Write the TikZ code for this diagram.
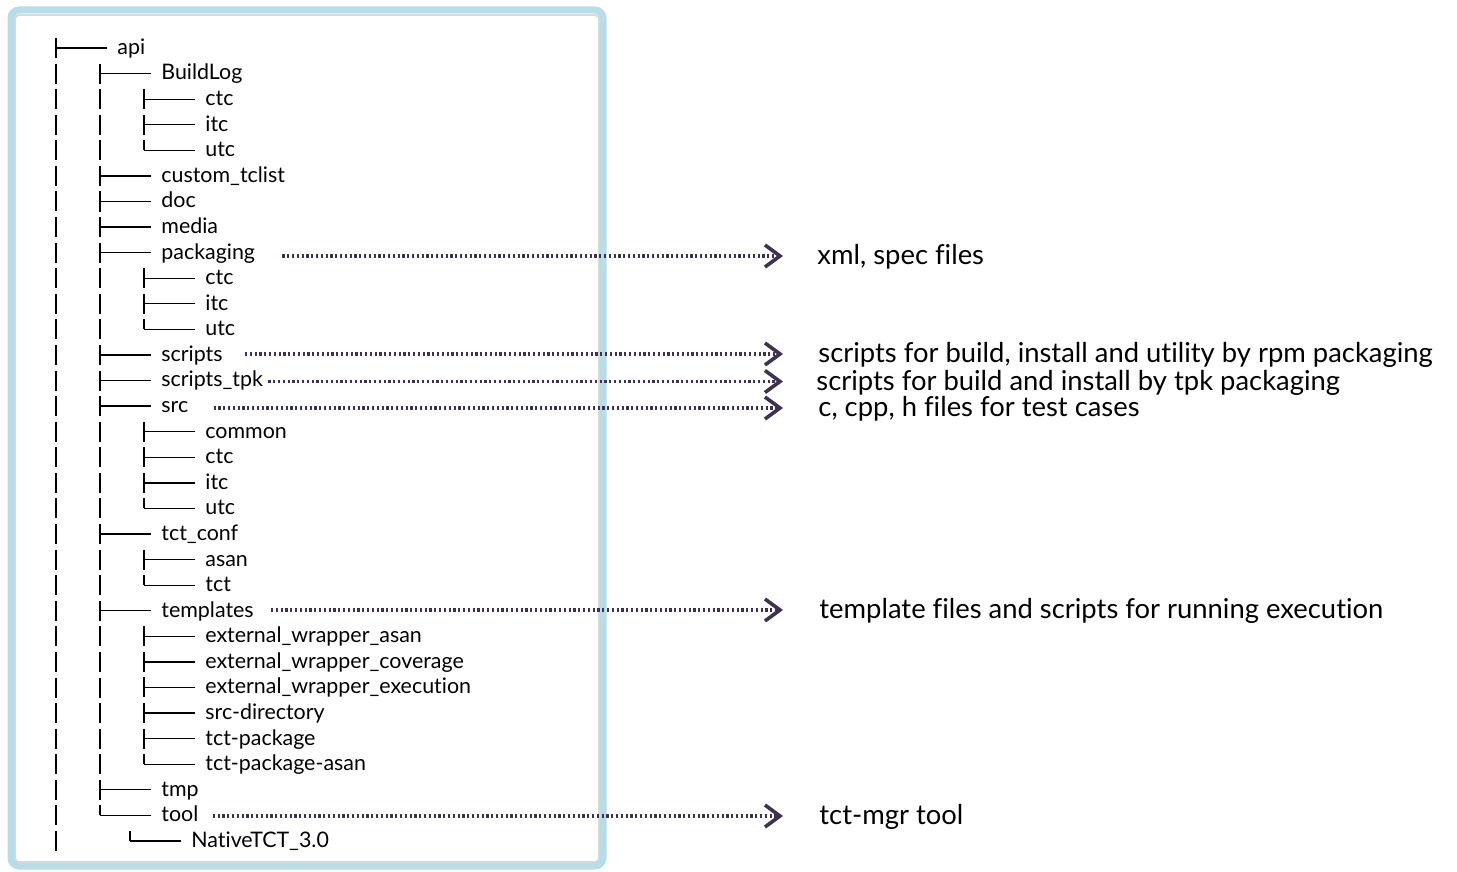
\documentclass[tikz,border=0pt]{standalone}
\usepackage{fontspec}
\setmainfont{Lato}[Ligatures=NoCommon]
\usetikzlibrary{arrows.meta}
\definecolor{frameColor}{HTML}{B7DDE8}
\definecolor{noteColor}{HTML}{3F3151}
\tikzset{
	dir/.style={anchor=west, inner sep=0pt, text height=6.4pt, text depth=0pt,
		font=\fontsize{10.7}{13}\selectfont},
	note/.style={anchor=west, inner sep=0pt, text height=8.6pt, text depth=0pt,
		font=\fontsize{13.7}{16}\selectfont},
	stem/.style={line width=0.65pt, dash pattern=on 10pt off 2.79pt},
	branch/.style={line width=0.65pt, shorten >=5pt},
	pointer/.style={noteColor, line width=1.6pt, dash pattern=on 1.1pt off 1.3pt,
		-{Straight Barb[length=7.5pt,width=11pt,line width=1.8pt]}}
}

\begin{document}
\begin{tikzpicture}[x=0.5pt,y=-0.5pt]
	\useasboundingbox (0,0) rectangle (1457,872);
	% frame
	\draw[black!15, line width=1pt, rounded corners=2pt] (15,15) rectangle (599,862);
	\draw[frameColor, line width=3.5pt, rounded corners=4pt] (11,10) rectangle (603,866);
	% directory tree
	\node[dir] (api) at (117,48) {api};
	\node[dir] (bl) at (161,73.6) {BuildLog};
	\node[dir] (blc) at (205,99.2) {ctc};
	\node[dir] (bli) at (205,124.7) {itc};
	\node[dir] (blu) at (205,150.3) {utc};
	\node[dir] (ctl) at (161,175.9) {custom\_tclist};
	\node[dir] (doc) at (161,201.5) {doc};
	\node[dir] (med) at (161,227.1) {media};
	\node[dir] (pkg) at (161,252.6) {packaging};
	\node[dir] (pkc) at (205,278.2) {ctc};
	\node[dir] (pki) at (205,303.8) {itc};
	\node[dir] (pku) at (205,329.4) {utc};
	\node[dir] (scr) at (161,355.0) {scripts};
	\node[dir] (stp) at (161,380.5) {scripts\_tpk};
	\node[dir] (src) at (161,406.1) {src};
	\node[dir] (scm) at (205,431.7) {common};
	\node[dir] (scc) at (205,457.3) {ctc};
	\node[dir] (sci) at (205,482.9) {itc};
	\node[dir] (scu) at (205,508.4) {utc};
	\node[dir] (cnf) at (161,534.0) {tct\_conf};
	\node[dir] (cfa) at (205,559.6) {asan};
	\node[dir] (cft) at (205,585.2) {tct};
	\node[dir] (tpl) at (161,610.8) {templates};
	\node[dir] (tw1) at (205,636.3) {external\_wrapper\_asan};
	\node[dir] (tw2) at (205,661.9) {external\_wrapper\_coverage};
	\node[dir] (tw3) at (205,687.5) {external\_wrapper\_execution};
	\node[dir] (tw4) at (205,713.1) {src-directory};
	\node[dir] (tw5) at (205,738.7) {tct-package};
	\node[dir] (tw6) at (205,764.2) {tct-package-asan};
	\node[dir] (tmp) at (161,789.8) {tmp};
	\node[dir] (tool) at (161,815.4) {tool};
	\node[dir] (ntc) at (191,841.0) {NativeTCT\_3.0};
	% tree columns
	\coordinate (c0) at (56,0);
	\coordinate (c1) at (100,0);
	\coordinate (c2) at (144,0);
	\coordinate (cn) at (130,0);
	\draw[stem] ([yshift=5pt]api.west -| c0) -- ([yshift=-5pt]ntc.west -| c0);
	\draw[stem] ([yshift=5pt]bl.west -| c1) -- (tool.west -| c1);
	\draw[stem] ([yshift=5pt]blc.west -| c2) -- (blu.west -| c2);
	\draw[stem] ([yshift=5pt]pkc.west -| c2) -- (pku.west -| c2);
	\draw[stem] ([yshift=5pt]scm.west -| c2) -- (scu.west -| c2);
	\draw[stem] ([yshift=5pt]cfa.west -| c2) -- (cft.west -| c2);
	\draw[stem] ([yshift=5pt]tw1.west -| c2) -- (tw6.west -| c2);
	\draw[stem] ([yshift=5pt]ntc.west -| cn) -- (ntc.west -| cn);
	\draw[branch] (api.west -| c0) -- (api.west);
	\draw[branch] (bl.west -| c1) -- (bl.west);
	\draw[branch] (blc.west -| c2) -- (blc.west);
	\draw[branch] (bli.west -| c2) -- (bli.west);
	\draw[branch] (blu.west -| c2) -- (blu.west);
	\draw[branch] (ctl.west -| c1) -- (ctl.west);
	\draw[branch] (doc.west -| c1) -- (doc.west);
	\draw[branch] (med.west -| c1) -- (med.west);
	\draw[branch] (pkg.west -| c1) -- (pkg.west);
	\draw[branch] (pkc.west -| c2) -- (pkc.west);
	\draw[branch] (pki.west -| c2) -- (pki.west);
	\draw[branch] (pku.west -| c2) -- (pku.west);
	\draw[branch] (scr.west -| c1) -- (scr.west);
	\draw[branch] (stp.west -| c1) -- (stp.west);
	\draw[branch] (src.west -| c1) -- (src.west);
	\draw[branch] (scm.west -| c2) -- (scm.west);
	\draw[branch] (scc.west -| c2) -- (scc.west);
	\draw[branch] (sci.west -| c2) -- (sci.west);
	\draw[branch] (scu.west -| c2) -- (scu.west);
	\draw[branch] (cnf.west -| c1) -- (cnf.west);
	\draw[branch] (cfa.west -| c2) -- (cfa.west);
	\draw[branch] (cft.west -| c2) -- (cft.west);
	\draw[branch] (tpl.west -| c1) -- (tpl.west);
	\draw[branch] (tw1.west -| c2) -- (tw1.west);
	\draw[branch] (tw2.west -| c2) -- (tw2.west);
	\draw[branch] (tw3.west -| c2) -- (tw3.west);
	\draw[branch] (tw4.west -| c2) -- (tw4.west);
	\draw[branch] (tw5.west -| c2) -- (tw5.west);
	\draw[branch] (tw6.west -| c2) -- (tw6.west);
	\draw[branch] (tmp.west -| c1) -- (tmp.west);
	\draw[branch] (tool.west -| c1) -- (tool.west);
	\draw[branch] (ntc.west -| cn) -- (ntc.west);
	% notes
	\node[note] (n1) at (817,256) {xml, spec files};
	\node[note] (n2) at (818,354) {scripts for build, install and utility by rpm packaging};
	\node[note] (n3) at (816,381.5) {scripts for build and install by tpk packaging};
	\node[note] (n4) at (818,408) {c, cpp, h files for test cases};
	\node[note] (n5) at (819,610) {template files and scripts for running execution};
	\node[note] (n6) at (819,816) {tct-mgr tool};
	\coordinate (tips) at (783,0);
	\draw[pointer, shorten <=13.5pt] (pkg.east |- n1.west) -- (tips |- n1.west);
	\draw[pointer, shorten <=11pt] (scr.east |- n2.west) -- (tips |- n2.west);
	\draw[pointer, shorten <=2.5pt] (stp.east |- n3.west) -- (tips |- n3.west);
	\draw[pointer, shorten <=12.5pt] (src.east |- n4.west) -- (tips |- n4.west);
	\draw[pointer, shorten <=8.5pt] (tpl.east |- n5.west) -- (tips |- n5.west);
	\draw[pointer, shorten <=7pt] (tool.east |- n6.west) -- (tips |- n6.west);
\end{tikzpicture}
\end{document}
